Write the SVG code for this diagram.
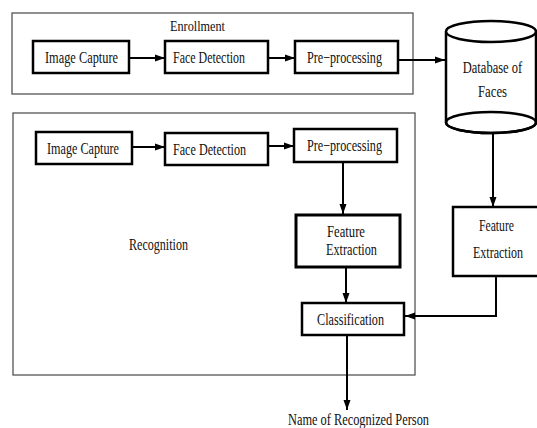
<svg xmlns="http://www.w3.org/2000/svg" width="537" height="428" viewBox="0 0 537 428">
<defs>
<style>
.frame{fill:none;stroke:#555;stroke-width:1.3}
.box{fill:#fff;stroke:#000;stroke-width:2.5}
.t{font-family:"Liberation Serif","Times New Roman",serif;font-size:16.5px;fill:#111;text-anchor:middle}
.c{fill:none;stroke:#000;stroke-width:2}
</style>
<marker id="ah" markerUnits="userSpaceOnUse" markerWidth="11" markerHeight="9" refX="10" refY="4.5" orient="auto">
<path d="M0,1 L10,4.5 L0,8 Z" fill="#000"/>
</marker>
</defs>
<rect width="537" height="428" fill="#fff"/>

<g id="enrollment">
<rect class="frame" x="12" y="13" width="401" height="81"/>
<text class="t" x="197.5" y="31" textLength="55" lengthAdjust="spacingAndGlyphs" style="font-size:15px">Enrollment</text>
</g>
<g id="recognition">
<rect class="frame" x="13" y="113" width="402" height="262"/>
<text class="t" x="158.5" y="250" textLength="59" lengthAdjust="spacingAndGlyphs">Recognition</text>
</g>

<g id="e-capture">
<rect class="box" x="33" y="41" width="96" height="32"/>
<text class="t" x="81.5" y="63" textLength="73" lengthAdjust="spacingAndGlyphs">Image Capture</text>
</g>
<g id="e-detect">
<rect class="box" x="165" y="41" width="103" height="32"/>
<text class="t" x="209" y="63" textLength="72" lengthAdjust="spacingAndGlyphs">Face Detection</text>
</g>
<g id="e-pre">
<rect class="box" x="295" y="41" width="103" height="32"/>
<text class="t" x="344.5" y="63" textLength="75" lengthAdjust="spacingAndGlyphs">Pre−processing</text>
</g>

<g id="database">
<path d="M446,31.5 L446,122.5 A45,10.5 0 0 0 536,122.5 L536,31.5" fill="#fff" stroke="#000" stroke-width="2.5"/>
<ellipse cx="491" cy="31.5" rx="45" ry="10.5" fill="#fff" stroke="#000" stroke-width="2.5"/>
<ellipse cx="491" cy="122.5" rx="45" ry="10.5" fill="none" stroke="#000" stroke-width="2.5"/>
<text class="t" transform="translate(492.5,73) scale(0.76,1)">Database of</text>
<text class="t" x="492.5" y="97" textLength="29" lengthAdjust="spacingAndGlyphs">Faces</text>
</g>

<g id="r-capture">
<rect class="box" x="36" y="132" width="96" height="32"/>
<text class="t" x="83" y="154" textLength="72" lengthAdjust="spacingAndGlyphs">Image Capture</text>
</g>
<g id="r-detect">
<rect class="box" x="165" y="133" width="103" height="32"/>
<text class="t" x="209.5" y="155" textLength="73" lengthAdjust="spacingAndGlyphs">Face Detection</text>
</g>
<g id="r-pre">
<rect class="box" x="294" y="129" width="103" height="33"/>
<text class="t" x="344.5" y="151" textLength="75" lengthAdjust="spacingAndGlyphs">Pre−processing</text>
</g>

<g id="r-feature">
<rect class="box" x="296" y="215" width="104" height="52" style="stroke-width:3"/>
<text class="t" x="346" y="237" textLength="38" lengthAdjust="spacingAndGlyphs">Feature</text>
<text class="t" x="351.5" y="255" textLength="51" lengthAdjust="spacingAndGlyphs">Extraction</text>
</g>
<g id="db-feature">
<rect class="box" x="453" y="207" width="90" height="69"/>
<text class="t" x="496.5" y="231" textLength="35" lengthAdjust="spacingAndGlyphs">Feature</text>
<text class="t" transform="translate(498,258) scale(0.73,1)">Extraction</text>
</g>
<g id="classification">
<rect class="box" x="302" y="303" width="102" height="32"/>
<text class="t" x="350.5" y="325" textLength="67" lengthAdjust="spacingAndGlyphs">Classification</text>
</g>
<g id="output">
<text class="t" x="358.5" y="425" textLength="141" lengthAdjust="spacingAndGlyphs">Name of Recognized Person</text>
</g>

<g id="connectors">
<line class="c" x1="129" y1="58" x2="165" y2="58" marker-end="url(#ah)"/>
<line class="c" x1="268" y1="58" x2="295" y2="58" marker-end="url(#ah)"/>
<line class="c" x1="398" y1="60" x2="445" y2="60" marker-end="url(#ah)"/>
<line class="c" x1="132" y1="147" x2="165" y2="147" marker-end="url(#ah)"/>
<line class="c" x1="268" y1="146" x2="294" y2="146" marker-end="url(#ah)"/>
<line class="c" x1="343" y1="162" x2="343" y2="214" marker-end="url(#ah)"/>
<line class="c" x1="346" y1="267" x2="346" y2="303" marker-end="url(#ah)"/>
<line class="c" x1="493" y1="133" x2="493" y2="207" marker-end="url(#ah)"/>
<polyline class="c" points="496,276 496,316 405,316" marker-end="url(#ah)"/>
<line class="c" x1="347" y1="335" x2="347" y2="410" marker-end="url(#ah)"/>
</g>
</svg>
